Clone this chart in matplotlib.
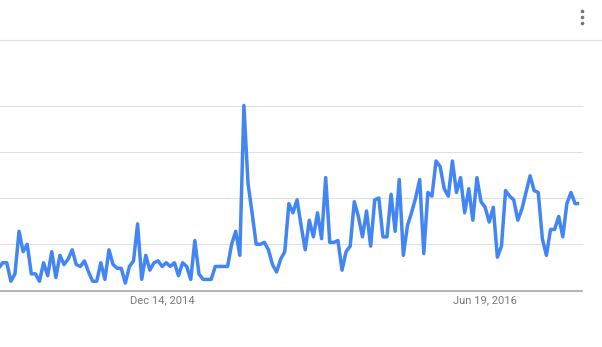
import matplotlib
matplotlib.use("Agg")
import matplotlib.pyplot as plt
import matplotlib.dates as mdates
from matplotlib.lines import Line2D
import pandas as pd
import numpy as np

# ---- data ----
start_date = "2014-03-09"
values = [12, 15, 15, 5, 9, 32, 21, 25, 9, 9,
          5, 15, 8, 21, 7, 19, 14, 17, 22, 14,
          13, 16, 10, 5, 5, 15, 6, 22, 14, 12,
          12, 4, 13, 16, 36, 6, 19, 11, 15, 16,
          13, 15, 13, 15, 8, 15, 13, 6, 27, 9,
          6, 6, 6, 13, 13, 13, 13, 25, 32, 19,
          100, 58, 42, 25, 25, 26, 22, 14, 10, 17,
          21, 47, 42, 49, 35, 22, 38, 29, 42, 28,
          61, 26, 26, 27, 11, 21, 24, 48, 40, 29,
          43, 24, 49, 50, 29, 29, 52, 32, 60, 19,
          35, 42, 50, 60, 20, 53, 51, 70, 67, 55,
          51, 70, 53, 61, 42, 55, 38, 61, 48, 45,
          37, 45, 18, 24, 54, 51, 49, 38, 44, 53,
          62, 54, 53, 28, 19, 33, 33, 40, 29, 47,
          53, 47, 47]
tick_dates = ["2014-12-14", "2016-06-19"]
tick_labels = ["Dec 14, 2014", "Jun 19, 2016"]
grid_values = [25, 50, 75, 100]

dates = pd.date_range(start_date, periods=len(values), freq="7D")

W, H = 602, 347
fig = plt.figure(figsize=(W / 100, H / 100), dpi=100)
fig.patch.set_facecolor("white")

# axes: left edge at x=0, right at 582; bottom y=290.5, top(100) y=105.5
ax = fig.add_axes([0, (H - 290.5) / H, 582 / W, 185 / H])
ax.set_facecolor("none")

for g in grid_values:
    ax.axhline(g, color="#e0e0e0", lw=0.8, zorder=1, clip_on=False)

ax.plot(dates, values, color="#4285f4", lw=2.5, solid_joinstyle="round",
        solid_capstyle="butt", zorder=3, clip_on=False)

d0 = pd.Timestamp(start_date)
ax.set_xlim(d0 + pd.Timedelta(days=0.34 * 7), d0 + pd.Timedelta(days=142.7 * 7))
ax.set_ylim(0, 100)

for s in ["top", "right", "left"]:
    ax.spines[s].set_visible(False)
ax.spines["bottom"].set_color("#9e9e9e")
ax.spines["bottom"].set_linewidth(1.1)
ax.spines["bottom"].set_zorder(2)

ax.set_yticks([])
ax.set_xticks([pd.Timestamp(d) for d in tick_dates])
ax.set_xticklabels(tick_labels, fontfamily="Roboto", fontsize=8.1, color="#7a7a7a")
ax.tick_params(axis="x", length=0, pad=3.5)

# header separator line and menu dots
fig.add_artist(Line2D([0, 1], [(H - 40.3) / H] * 2, color="#e0e0e0", lw=0.9,
                      transform=fig.transFigure))
for yd in [10.7, 16.7, 22.7]:
    fig.add_artist(Line2D([581.7 / W], [(H - yd) / H], marker="o", markersize=2.6,
                          color="#757575", markeredgewidth=0, linestyle="none",
                          transform=fig.transFigure))

fig.savefig("out.png", dpi=100, facecolor="white")
